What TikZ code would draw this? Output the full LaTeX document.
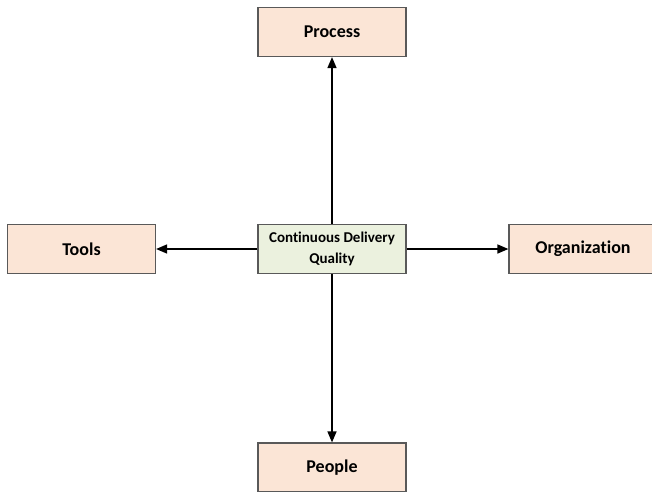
\documentclass[tikz,border=0pt]{standalone}
\usepackage{fontspec}
\setmainfont[Ligatures={NoCommon}]{Carlito}
\usetikzlibrary{arrows.meta}
\definecolor{boxfill}{HTML}{FBE5D6}
\definecolor{corefill}{HTML}{EBF1DE}
\definecolor{boxline}{HTML}{595959}
\begin{document}
\begin{tikzpicture}[x=1pt,y=-1pt,
	area/.style={draw=boxline, line width=1.2pt, fill=boxfill, minimum width=148pt, minimum height=49pt, inner sep=0pt, font=\fontsize{18}{20}\selectfont\bfseries},
	core/.style={area, fill=corefill, font=\fontsize{15}{21}\selectfont\bfseries, align=center},
	link/.style={line width=1.5pt, -{Triangle[length=11pt,width=9pt]}}]
	\useasboundingbox (0,0) rectangle (652,491);
	\node [core] (quality) at (332, 249) {Continuous Delivery\\Quality};
	\node [area] (process) at (332, 32) {Process};
	\node [area] (tools) at (81.5, 249) {Tools};
	\node [area] (organization) at (583, 249) {Organization};
	\node [area] (people) at (332, 467.5) {People};
	\draw [link] (quality.north) -- (process.south);
	\draw [link] (quality.west) -- (tools.east);
	\draw [link] (quality.east) -- (organization.west);
	\draw [link] (quality.south) -- (people.north);
\end{tikzpicture}
\end{document}
